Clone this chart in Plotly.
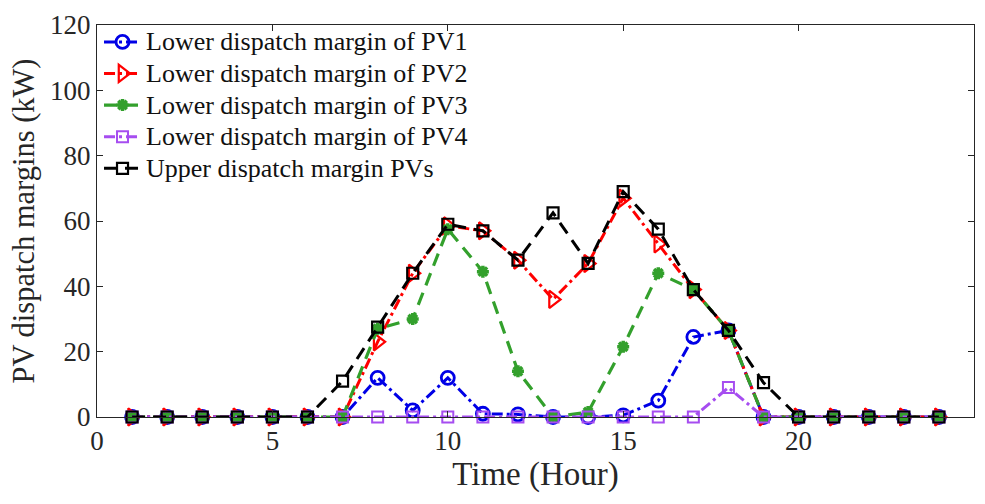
import plotly.graph_objects as go

hours = list(range(1, 25))
pv1_lower = [0, 0, 0, 0, 0, 0, 0, 12, 2, 12, 1, 0.8, 0, 0, 0.5, 5, 24.5, 26.5, 0, 0, 0, 0, 0, 0]
pv2_lower = [0, 0, 0, 0, 0, 0, 0, 23, 44, 58.5, 57, 48, 36, 47, 67, 53, 39, 26.5, 0, 0, 0, 0, 0, 0]
pv3_lower = [0, 0, 0, 0, 0, 0, 0, 27, 30, 57.5, 44.5, 14, 0, 1.5, 21.5, 44, 39, 26.5, 0, 0, 0, 0, 0, 0]
pv4_lower = [0, 0, 0, 0, 0, 0, 0, 0, 0, 0, 0, 0, 0, 0, 0, 0, 0, 9, 0, 0, 0, 0, 0, 0]
pvs_upper = [0, 0, 0, 0, 0, 0, 11, 27.5, 44, 59, 57, 48, 62.5, 47, 69, 57.5, 39, 26.5, 10.5, 0, 0, 0, 0, 0]

names = ["Lower dispatch margin of PV1", "Lower dispatch margin of PV2",
         "Lower dispatch margin of PV3", "Lower dispatch margin of PV4",
         "Upper dispatch margin PVs"]

FONT = "Liberation Serif"
TXT = "#262626"


def big(label):
    return "<span style='font-size:26px'>" + label + "</span>"


fig = go.Figure()
fig.add_trace(go.Scatter(x=hours, y=pv1_lower, name=big(names[0]), mode="lines+markers", cliponaxis=False,
                         line=dict(color="#0000E6", width=3, dash="11px,4px,3px,4px"),
                         marker=dict(symbol="circle-open", size=13, line=dict(width=2.8, color="#0000E6"))))
fig.add_trace(go.Scatter(x=hours, y=pv2_lower, name=big(names[1]), mode="lines+markers", cliponaxis=False,
                         line=dict(color="#FF0000", width=3, dash="11px,4px,3px,4px"),
                         marker=dict(symbol="triangle-right-open", size=15, line=dict(width=2.2, color="#FF0000"))))
fig.add_trace(go.Scatter(x=hours, y=pv3_lower, name=big(names[2]), mode="lines+markers", cliponaxis=False,
                         line=dict(color="#33A02C", width=3.2, dash="13px,8px"),
                         marker=dict(symbol="asterisk-open", size=10, line=dict(width=3.5, color="#33A02C"))))
fig.add_trace(go.Scatter(x=hours, y=pv4_lower, name=big(names[3]), mode="lines+markers", cliponaxis=False,
                         line=dict(color="#A64DF0", width=3, dash="11px,4px,3px,4px"),
                         marker=dict(symbol="square-open", size=11, line=dict(width=2, color="#A64DF0"))))
fig.add_trace(go.Scatter(x=hours, y=pvs_upper, name=big(names[4]), mode="lines+markers", cliponaxis=False,
                         line=dict(color="#000000", width=3, dash="13px,8px"),
                         marker=dict(symbol="square-open", size=11, line=dict(width=2.2, color="#000000"))))

axis_common = dict(showline=True, linecolor=TXT, linewidth=1, mirror="ticks",
                   ticks="inside", ticklen=6, tickcolor=TXT, showgrid=False, zeroline=False,
                   tickfont=dict(family=FONT, size=27, color=TXT))

fig.update_layout(
    width=985, height=504,
    margin=dict(l=97, r=10, t=17, b=87),
    paper_bgcolor="white", plot_bgcolor="white",
    font=dict(family=FONT, color=TXT),
    xaxis=dict(range=[0, 25], dtick=5, title=dict(text="Time (Hour)", font=dict(family=FONT, size=33, color=TXT), standoff=4), **axis_common),
    yaxis=dict(range=[0, 120], dtick=20, title=dict(text="PV dispatch margins (kW)", font=dict(family=FONT, size=30.5, color=TXT), standoff=6), **axis_common),
    legend=dict(x=0.0023, y=1.01, xanchor="left", yanchor="top", bgcolor="rgba(255,255,255,0)",
                borderwidth=0, font=dict(family=FONT, size=22, color="#111111"),
                itemwidth=37, tracegroupgap=0),
    showlegend=True,
)

fig.write_html("out.html")
